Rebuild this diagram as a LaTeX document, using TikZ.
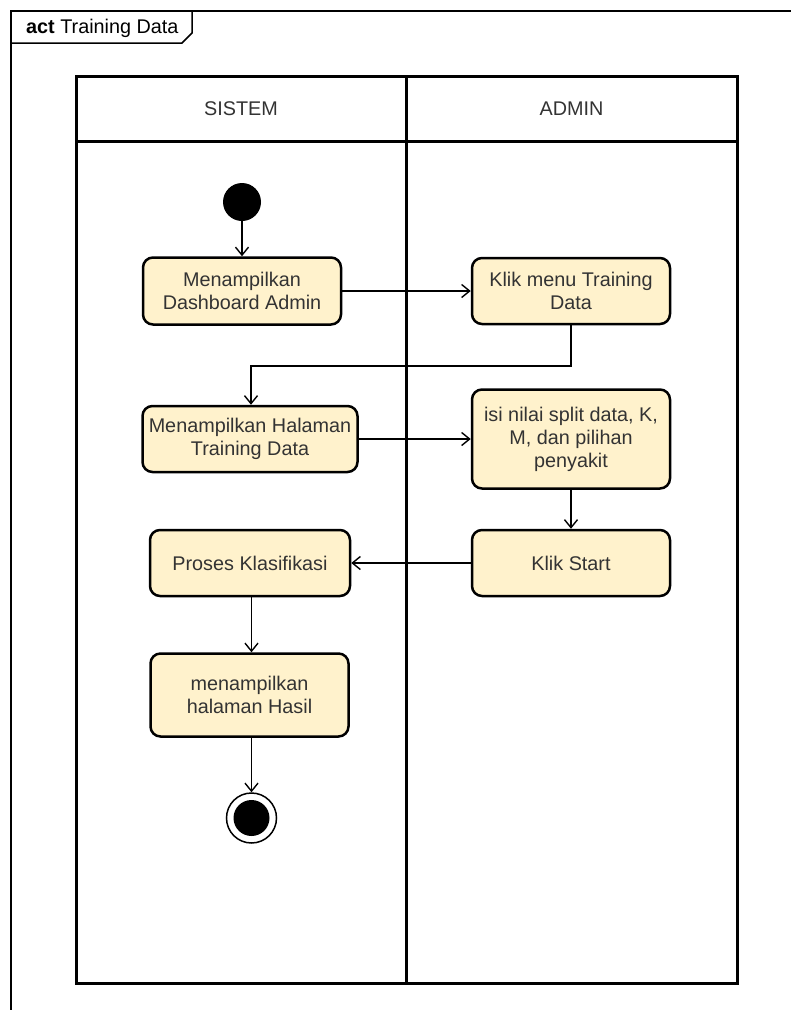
\documentclass[tikz,border=0pt]{standalone}
\usepackage{fontspec}
\setmainfont{Liberation Sans}
\usetikzlibrary{arrows.meta}
\definecolor{actfill}{HTML}{FFF2CC}
\definecolor{txt}{HTML}{333333}
\begin{document}
\begin{tikzpicture}[x=1pt,y=-1pt,
  every node/.style={font=\fontsize{19.8}{23}\selectfont, text=txt},
  action/.style={draw=black, fill=actfill, line width=2.5pt, rounded corners=10pt,
                 align=center, inner sep=0pt},
  flow/.style={line width=1.4pt, -{Straight Barb[length=8pt,width=13pt,line width=1.4pt]}},
  lane/.style={line width=3pt},
]
\useasboundingbox (0,0) rectangle (791,1010);

% activity frame with its name tab
\draw[line width=1.5pt] (11,1010) -- (11,11) -- (791,11);
\draw[line width=1.5pt] (11,43) -- (182,43) -- (192,33) -- (192,11);
\node[anchor=base west, inner sep=0pt, text=black] (title) at (26,33) {\textbf{act} Training Data};

% swimlanes
\draw[lane] (76,76) rectangle (737,983);
\draw[lane] (76,141) -- (737,141);
\draw[lane] (406,76) -- (406,983);
\node (sistem) at (241,109) {SISTEM};
\node (admin) at (571.5,109) {ADMIN};

% actions
\node[circle, fill=black, minimum size=38pt, inner sep=0pt] (init) at (242,202) {};
\node[action, minimum width=198pt, minimum height=67pt] (dash) at (242,291)
  {Menampilkan\\Dashboard Admin};
\node[action, minimum width=198pt, minimum height=66pt] (menu) at (571,291)
  {Klik menu Training\\Data};
\node[action, minimum width=215pt, minimum height=66pt] (halaman) at (250,439)
  {Menampilkan Halaman\\Training Data};
\node[action, minimum width=198pt, minimum height=99pt] (isi) at (571,439)
  {isi nilai split data, K,\\M, dan pilihan\\penyakit};
\node[action, minimum width=198pt, minimum height=66pt] (klikstart) at (571,563)
  {Klik Start};
\node[action, minimum width=200pt, minimum height=66pt] (proses) at (250,563)
  {Proses Klasifikasi};
\node[action, minimum width=198pt, minimum height=83pt] (hasil) at (249.5,695)
  {menampilkan\\halaman Hasil};
\node[circle, draw=black, line width=1.5pt, minimum size=50pt, inner sep=0pt,
      path picture={\fill[black] (path picture bounding box.center) circle (18pt);}]
  (final) at (251.5,818) {};

% control flow
\coordinate (bend) at (0,366);
\coordinate (lowlane) at (251.5,0);
\draw[flow] (init) -- (dash);
\draw[flow] (dash) -- (menu);
\draw[flow] (menu.south) -- (menu.south |- bend) -| ([xshift=1pt]halaman.north);
\draw[flow] (halaman) -- (isi);
\draw[flow] (isi) -- (klikstart);
\draw[flow] (klikstart) -- (proses);
\draw[flow] (lowlane |- proses.south) -- (lowlane |- hasil.north);
\draw[flow] (lowlane |- hasil.south) -- (final);
\end{tikzpicture}
\end{document}
